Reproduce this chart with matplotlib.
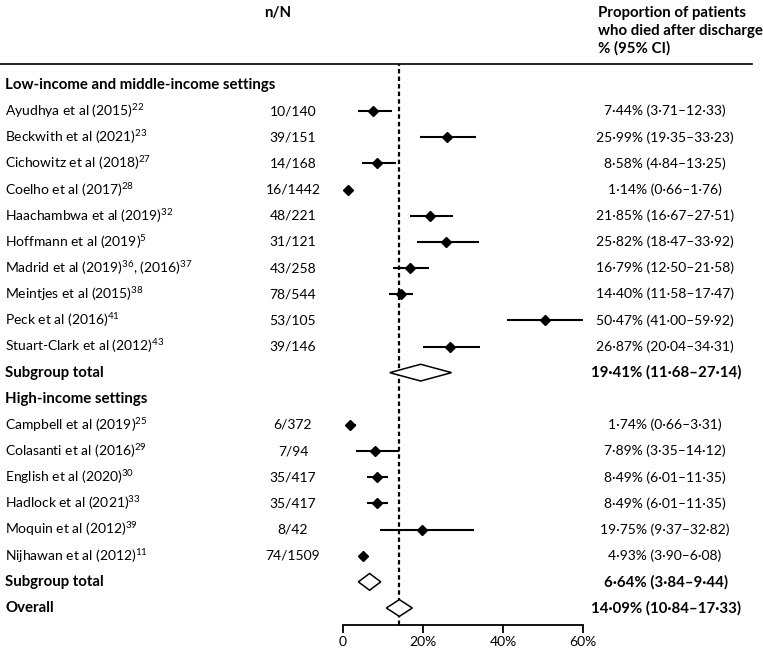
import matplotlib.pyplot as plt
from matplotlib.lines import Line2D
from matplotlib.patches import Polygon
from matplotlib.transforms import blended_transform_factory

plt.rcParams["font.family"] = ["Lato", "DejaVu Sans"]
plt.rcParams["mathtext.default"] = "regular"

lmic_names = [
    "Ayudhya et al (2015)$^{22}$",
    "Beckwith et al (2021)$^{23}$",
    "Cichowitz et al (2018)$^{27}$",
    "Coelho et al (2017)$^{28}$",
    "Haachambwa et al (2019)$^{32}$",
    "Hoffmann et al (2019)$^{5}$",
    "Madrid et al (2019)$^{36}$, (2016)$^{37}$",
    "Meintjes et al (2015)$^{38}$",
    "Peck et al (2016)$^{41}$",
    "Stuart-Clark et al (2012)$^{43}$",
]
lmic_nN = ["10/140", "39/151", "14/168", "16/1442", "48/221",
           "31/121", "43/258", "78/544", "53/105", "39/146"]
lmic_est = [7.44, 25.99, 8.58, 1.14, 21.85, 25.82, 16.79, 14.40, 50.47, 26.87]
lmic_lo = [3.71, 19.35, 4.84, 0.66, 16.67, 18.47, 12.50, 11.58, 41.00, 20.04]
lmic_hi = [12.33, 33.23, 13.25, 1.76, 27.51, 33.92, 21.58, 17.47, 59.92, 34.31]
lmic_total = (19.41, 11.68, 27.14)

hic_names = [
    "Campbell et al (2019)$^{25}$",
    "Colasanti et al (2016)$^{29}$",
    "English et al (2020)$^{30}$",
    "Hadlock et al (2021)$^{33}$",
    "Moquin et al (2012)$^{39}$",
    "Nijhawan et al (2012)$^{11}$",
]
hic_nN = ["6/372", "7/94", "35/417", "35/417", "8/42", "74/1509"]
hic_est = [1.74, 7.89, 8.49, 8.49, 19.75, 4.93]
hic_lo = [0.66, 3.35, 6.01, 6.01, 9.37, 3.90]
hic_hi = [3.31, 14.12, 11.35, 11.35, 32.82, 6.08]
hic_total = (6.64, 3.84, 9.44)

overall = (14.09, 10.84, 17.33)

ticks = [0, 20, 40, 60]
tick_labels = ["0", "20%", "40%", "60%"]


def fmt(v):
    return f"{v:.2f}".replace(".", "·")


def ci_text(est, lo, hi):
    return f"{fmt(est)}% ({fmt(lo)}–{fmt(hi)})"


W, H = 763, 649
fig = plt.figure(figsize=(W / 100, H / 100), dpi=100)

row_top, row_step = 85, 26.15
ax_top, ax_bottom = 64, 625
ax = fig.add_axes([343 / W, (H - ax_bottom) / H, 240 / W, (ax_bottom - ax_top) / H])
ax.set_xlim(0, 60)
ax.set_ylim((ax_bottom - row_top) / row_step, (ax_top - row_top) / row_step)

trans = blended_transform_factory(fig.transFigure, ax.transData)
fs = 10
fs_b = 10.8


def study_rows(y0, names, nN, est, lo, hi):
    for i in range(len(names)):
        y = y0 + i
        ax.text(5 / W, y, names[i], transform=trans, ha="left", va="center", fontsize=fs)
        ax.text(293 / W, y, nN[i], transform=trans, ha="center", va="center", fontsize=fs)
        ax.text(665 / W, y, ci_text(est[i], lo[i], hi[i]), transform=trans,
                ha="center", va="center", fontsize=fs)
        ax.plot([lo[i], hi[i]], [y, y], color="black", lw=1.5, solid_capstyle="butt")
        ax.plot(est[i], y, marker="D", color="black", markersize=5.5)


def total_row(y, label, vals):
    est, lo, hi = vals
    h = 0.32
    ax.add_patch(Polygon([(lo, y), (est, y - h), (hi, y), (est, y + h)], closed=True,
                         facecolor="white", edgecolor="black", lw=1.1, zorder=3))
    ax.text(5 / W, y, label, transform=trans, ha="left", va="center",
            fontsize=fs_b, fontweight="bold")
    ax.text(666 / W, y, ci_text(est, lo, hi), transform=trans, ha="center",
            va="center", fontsize=fs_b, fontweight="bold")


def heading(y, label):
    ax.text(5 / W, y, label, transform=trans, ha="left", va="center",
            fontsize=fs_b, fontweight="bold")


heading(0, "Low-income and middle-income settings")
study_rows(1, lmic_names, lmic_nN, lmic_est, lmic_lo, lmic_hi)
total_row(len(lmic_names) + 1, "Subgroup total", lmic_total)
y_h = len(lmic_names) + 2
heading(y_h, "High-income settings")
study_rows(y_h + 1, hic_names, hic_nN, hic_est, hic_lo, hic_hi)
total_row(y_h + len(hic_names) + 1, "Subgroup total", hic_total)
total_row(y_h + len(hic_names) + 2, "Overall", overall)

ax.axvline(overall[0], color="black", lw=1.6, linestyle=(0, (2, 1.4)), zorder=1)

for s in ["left", "top", "right"]:
    ax.spines[s].set_visible(False)
ax.spines["bottom"].set_linewidth(1.3)
ax.spines["bottom"].set_bounds(0, 60)
ax.set_yticks([])
ax.set_xticks(ticks)
ax.set_xticklabels(tick_labels)
ax.tick_params(axis="x", direction="out", length=6, width=1.3, labelsize=fs, pad=2)

fig.add_artist(Line2D([0, 752 / W], [1 - 64 / H, 1 - 64 / H], transform=fig.transFigure,
                      color="black", lw=1.2))
fig.text(278 / W, 1 - 13 / H, "n/N", ha="center", va="center", fontsize=fs_b, fontweight="bold")
fig.text(598 / W, 1 - 31 / H, "Proportion of patients\nwho died after discharge\n% (95% CI)",
         ha="left", va="center", fontsize=fs_b, fontweight="bold", linespacing=1.32)

plt.savefig("out.png", dpi=100)
plt.close()
